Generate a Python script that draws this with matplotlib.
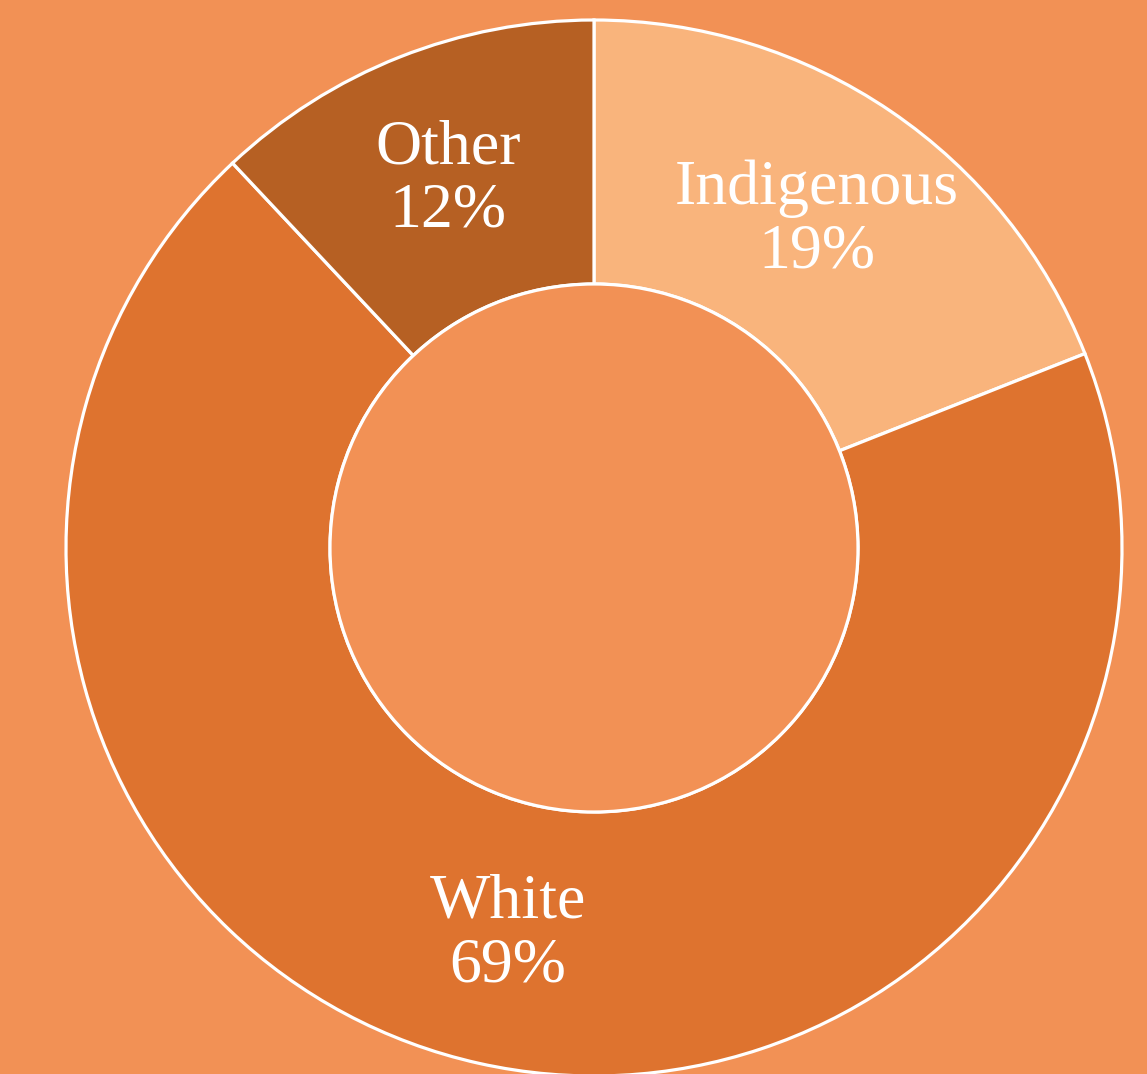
import matplotlib
matplotlib.use("Agg")
import matplotlib.pyplot as plt

# Population share by group
groups = ["Indigenous", "White", "Other"]
shares = [19, 69, 12]
colors = ["#F9B47C", "#DE732F", "#B66023"]
bg = "#F29155"

fig = plt.figure(figsize=(11.47, 10.74), dpi=100)
fig.patch.set_facecolor(bg)

# square axes so the ring sits where it should on the page
ax = fig.add_axes([66 / 1147, -2 / 1074, 1056 / 1147, 1056 / 1074])
ax.set_facecolor(bg)

labels_iter = iter(groups)


def fmt(pct):
    return "{}\n{:.0f}%".format(next(labels_iter), pct)


wedges, texts, autotexts = ax.pie(
    shares,
    colors=colors,
    startangle=90,
    counterclock=False,
    radius=1.0,
    autopct=fmt,
    pctdistance=0.75,
    wedgeprops=dict(width=0.5, edgecolor="white", linewidth=2.3),
    textprops=dict(color="white", family="Liberation Serif", fontsize=46,
                   linespacing=1.12),
)
for w in wedges:
    w.set_clip_on(False)

# inner circle outline
hole = plt.Circle((0, 0), 0.5, facecolor=bg, edgecolor="white", linewidth=2.3)
ax.add_patch(hole)

ax.set_xlim(-1, 1)
ax.set_ylim(-1, 1)
ax.axis("off")

fig.savefig("out.png", dpi=100, facecolor=bg)
